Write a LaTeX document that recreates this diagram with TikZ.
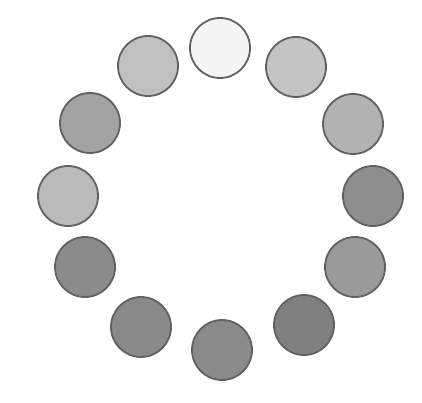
\documentclass[tikz,border=0pt]{standalone}
\begin{document}
\begin{tikzpicture}[x=1pt,y=-1pt,
  disc/.style={circle,draw=black!62,line width=1.8pt,minimum size=60pt,inner sep=0pt}]
\definecolor{c0}{HTML}{F4F4F4}
\definecolor{c1}{HTML}{C4C4C4}
\definecolor{c2}{HTML}{B2B2B2}
\definecolor{c3}{HTML}{8E8E8E}
\definecolor{c4}{HTML}{9A9A9A}
\definecolor{c5}{HTML}{808080}
\definecolor{c6}{HTML}{8A8A8A}
\definecolor{c7}{HTML}{898989}
\definecolor{c8}{HTML}{8B8B8B}
\definecolor{c9}{HTML}{BABABA}
\definecolor{c10}{HTML}{A2A2A2}
\definecolor{c11}{HTML}{C0C0C0}
\fill[white] (0,0) rectangle (422,403);
\useasboundingbox (0,0) rectangle (422,403);
\node[disc,fill=c0]  (d0)  at (220,48)  {};
\node[disc,fill=c1]  (d1)  at (296,67)  {};
\node[disc,fill=c2]  (d2)  at (353,124) {};
\node[disc,fill=c3]  (d3)  at (373,196) {};
\node[disc,fill=c4]  (d4)  at (355,267) {};
\node[disc,fill=c5]  (d5)  at (304,325) {};
\node[disc,fill=c6]  (d6)  at (222,350) {};
\node[disc,fill=c7]  (d7)  at (141,327) {};
\node[disc,fill=c8]  (d8)  at (85,267)  {};
\node[disc,fill=c9]  (d9)  at (68,196)  {};
\node[disc,fill=c10] (d10) at (90,123)  {};
\node[disc,fill=c11] (d11) at (148,66)  {};
\end{tikzpicture}
\end{document}
